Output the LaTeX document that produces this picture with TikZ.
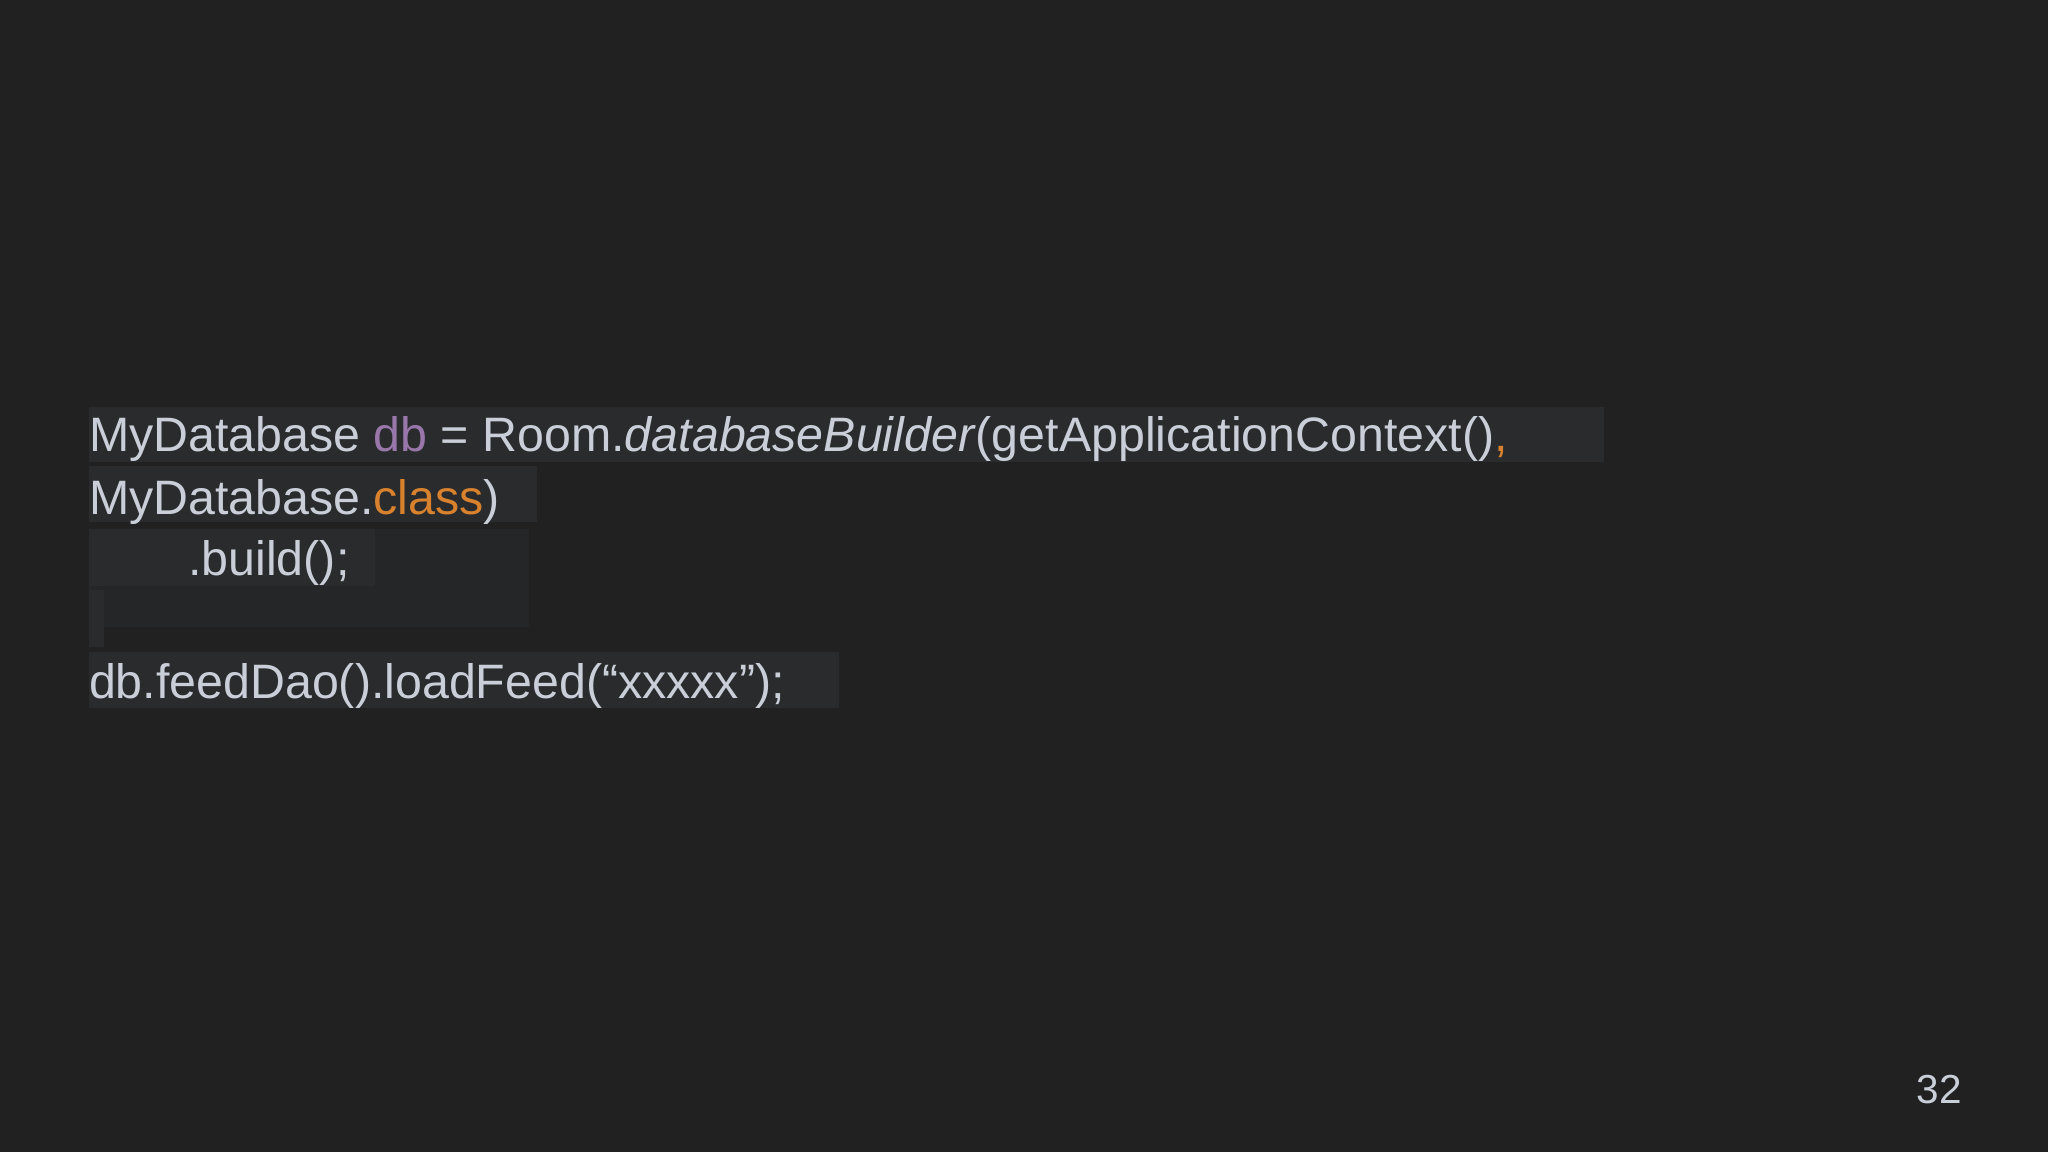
\documentclass[tikz,border=0pt]{standalone}
\usepackage{fontspec}
\setmainfont{Liberation Sans}
\definecolor{bg}{HTML}{212122}
\definecolor{hl}{HTML}{2A2B2D}
\definecolor{hl2}{HTML}{252627}
\definecolor{txt}{HTML}{C9CED8}
\definecolor{purp}{HTML}{9A77AB}
\definecolor{orng}{HTML}{D9822E}
\begin{document}
\begin{tikzpicture}[x=1pt,y=1pt,
  code/.style={anchor=base west,inner sep=0pt,text=txt,font=\fontsize{37}{44}\selectfont}]
\useasboundingbox (0,0) rectangle (1568,882);
\fill[bg] (0,0) rectangle (1568,882);
\fill[hl] (68,882-312) rectangle (1228,882-354);
\fill[hl] (68,882-357) rectangle (411,882-400);
\fill[hl2] (68,882-405) rectangle (405,882-480);
\fill[hl] (68,882-405) rectangle (287,882-449);
\fill[hl] (68,882-452) rectangle (80,882-495);
\fill[hl] (68,882-499) rectangle (642,882-542);
\node[code] (l1) at (68,882-346) {MyDatabase \textcolor{purp}{db} = Room.\textit{databaseBuilder}(getApplicationContext()\textcolor{orng}{,}};
\node[code] (l2) at (68,882-394) {MyDatabase.\textcolor{orng}{class})};
\node[code] (l3) at (68,882-441) {\hspace*{76pt}.build();};
\node[code] (l5) at (68,882-535) {db.feedDao().loadFeed(“xxxxx”);};
\node[anchor=base east,inner sep=0pt,text=txt,font=\fontsize{31}{36}\selectfont] (pg) at (1502,882-845) {32};
\end{tikzpicture}
\end{document}
